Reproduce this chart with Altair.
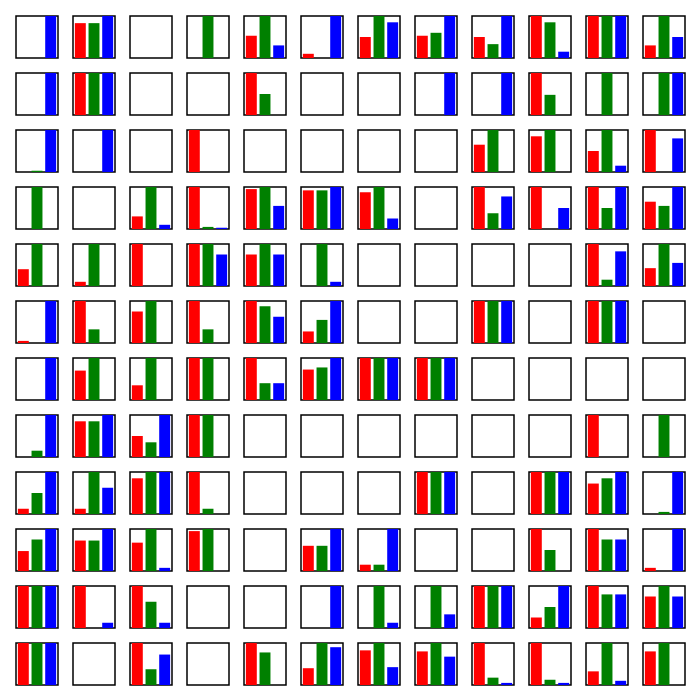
import altair as alt
import pandas as pd

# Values per panel, 12 rows x 12 columns, read as fraction of panel max
red_rows = [
    [0, .83, 0, 0, .53, .10, .50, .53, .50, 1, 1, .30],
    [0, 1, 0, 0, 1, 0, 0, 0, 0, 1, 0, 0],
    [0, 0, 0, 1, 0, 0, 0, 0, .65, .85, .5, 1],
    [0, 0, .3, 1, .95, .92, .875, 0, 1, 1, 1, .65],
    [.4, .1, 1, 1, .75, 0, 0, 0, 0, 0, 1, .425],
    [.05, 1, .75, 1, 1, .275, 0, 0, 1, 0, 1, 0],
    [0, .7, .35, 1, 1, .725, 1, 1, 0, 0, 0, 0],
    [0, .85, .5, 1, 0, 0, 0, 0, 0, 0, 1, 0],
    [.125, .125, .85, 1, 0, 0, 0, 1, 0, 1, .725, 0],
    [.475, .725, .675, .95, 0, .6, .15, 0, 0, 1, 1, .075],
    [1, 1, 1, 0, 0, 0, 0, 0, 1, .25, 1, .75],
    [1, 0, 1, 0, 1, .4, .825, .8, 1, 1, .325, .8],
]
green_rows = [
    [0, .83, 0, 1, 1, 0, 1, .60, .33, .85, 1, 1],
    [0, 1, 0, 0, .5, 0, 0, 0, 0, .48, 1, 1],
    [.03, 0, 0, 0, 0, 0, 0, 0, 1, 1, 1, 0],
    [1, 0, 1, .05, 1, .92, 1, 0, .375, 0, .5, .55],
    [1, 1, 0, 1, 1, 1, 0, 0, 0, 0, .15, 1],
    [0, .325, 1, .325, .875, .55, 0, 0, 1, 0, 1, 0],
    [0, 1, 1, 1, .4, .775, 1, 1, 0, 0, 0, 0],
    [.15, .85, .35, 1, 0, 0, 0, 0, 0, 0, 0, 1],
    [.5, 1, 1, .125, 0, 0, 0, 1, 0, 1, .85, .05],
    [.75, .725, 1, 1, 0, .6, .15, 0, 0, .5, .75, 0],
    [1, 0, .625, 0, 0, 0, 1, 1, 1, .5, .8, 1],
    [1, 0, .375, 0, .775, 1, 1, 1, .175, .125, 1, 1],
]
blue_rows = [
    [1, 1, 0, 0, .30, 1, .85, 1, 1, .15, 1, .50],
    [1, 1, 0, 0, 0, 0, 0, 1, 1, 0, 0, 1],
    [1, 1, 0, 0, 0, 0, 0, 0, 0, 0, .15, .8],
    [0, 0, .1, .03, .55, 1, .25, 0, .775, .5, 1, 1],
    [0, 0, 0, .75, .75, .1, 0, 0, 0, 0, .825, .55],
    [1, 0, 0, 0, .625, 1, 0, 0, 1, 0, 1, 0],
    [1, 0, 0, 0, .4, 1, 1, 1, 0, 0, 0, 0],
    [1, 1, 1, 0, 0, 0, 0, 0, 0, 0, 0, 0],
    [1, .625, 1, 0, 0, 0, 0, 1, 0, 1, 1, 1],
    [1, 1, .075, 0, 0, 1, 1, 0, 0, 0, .75, 1],
    [1, .125, .125, 0, 0, 1, .125, .325, 1, 1, .8, .75],
    [1, 0, .725, 0, 0, .9, .425, .675, .05, .05, .1, 0],
]
categories = ["R", "G", "B"]
colors = ["red", "green", "blue"]

records = []
for r in range(12):
    for c in range(12):
        for cat, src in zip(categories, [red_rows, green_rows, blue_rows]):
            records.append({"row": r, "col": c, "cat": cat, "value": src[r][c]})
df = pd.DataFrame(records)

base = alt.Chart(df).mark_bar().encode(
    x=alt.X("cat:N", axis=None, sort=categories,
            scale=alt.Scale(domain=categories, paddingInner=0.2, paddingOuter=0.136)),
    y=alt.Y("value:Q", axis=None, scale=alt.Scale(domain=[0, 1], nice=False, zero=True)),
    color=alt.Color("cat:N", legend=None,
                    scale=alt.Scale(domain=categories, range=colors)),
).properties(width=42, height=42)

hdr = alt.Header(title=None, labels=False, labelPadding=0, titlePadding=0)
chart = base.facet(
    row=alt.Row("row:O", title=None, header=hdr),
    column=alt.Column("col:O", title=None, header=hdr),
    spacing=15,
    bounds="flush",
).properties(
    padding={"left": 15, "top": 15, "right": 0, "bottom": 0},
).configure(
    background="white",
    view=alt.ViewConfig(stroke="black", strokeWidth=1.5),
)

chart.save("out.html", embed_options={"renderer": "svg", "actions": False})
